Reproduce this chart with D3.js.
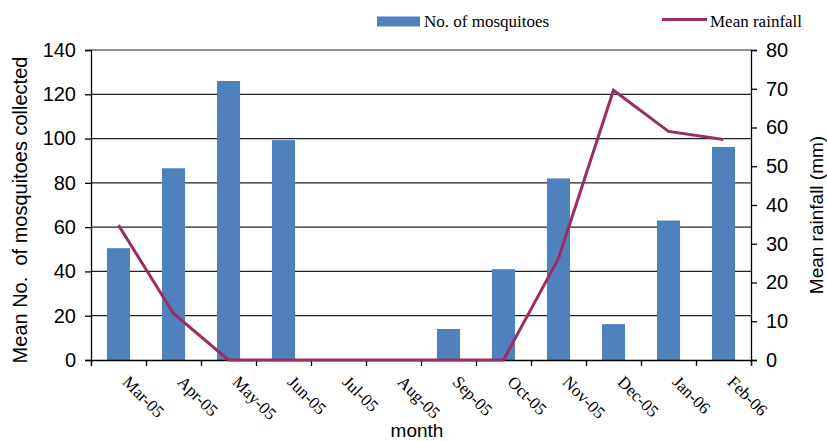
<!DOCTYPE html>
<html>
<head>
<meta charset="utf-8">
<script src="https://cdn.jsdelivr.net/npm/d3@7"></script>
<style>
  body { margin: 0; background: #fff; }
  svg { display: block; }
</style>
</head>
<body>
<svg id="chart"></svg>
<script>
var months = ['Mar-05', 'Apr-05', 'May-05', 'Jun-05', 'Jul-05', 'Aug-05',
	'Sep-05', 'Oct-05', 'Nov-05', 'Dec-05', 'Jan-06', 'Feb-06'];
var mosquitoes = [50.5, 86.6, 126, 99.3, 0, 0, 14, 41, 82, 16.2, 63, 96.2];
var rainfall = [34.8, 12, 0, 0, 0, 0, 0, 0, 26.2, 69.6, 59, 56.9];
var leftTicks = [0, 20, 40, 60, 80, 100, 120, 140];
var rightTicks = [0, 10, 20, 30, 40, 50, 60, 70, 80];

var width = 827, height = 441;
var margin = {top: 50, right: 76, bottom: 81, left: 91};
var plotW = width - margin.left - margin.right;
var plotH = height - margin.top - margin.bottom;

var barColor = '#4f81bd';
var lineColor = '#9b2d62';
var sans = 'Liberation Sans, Arial, sans-serif';
var serif = 'Liberation Serif, Times New Roman, serif';

var svg = d3.select('#chart')
	.attr('width', width)
	.attr('height', height);

var g = svg.append('g')
	.attr('transform', 'translate(' + margin.left + ',' + margin.top + ')');

var x = d3.scaleBand()
	.domain(months)
	.range([0, plotW])
	.padding(0);

// tick positions sit on the category boundaries
var xEdge = d3.scaleLinear()
	.domain([0, months.length])
	.range([0, plotW]);

var yLeft = d3.scaleLinear().domain([0, 140]).range([plotH, 0]);
var yRight = d3.scaleLinear().domain([0, 80]).range([plotH, 0]);

// gridlines
g.selectAll('line.grid')
	.data(leftTicks.slice(1))
	.enter()
	.append('line')
	.attr('class', 'grid')
	.attr('x1', 0)
	.attr('x2', plotW)
	.attr('y1', function(d) { return yLeft(d); })
	.attr('y2', function(d) { return yLeft(d); })
	.style('stroke', '#222')
	.style('stroke-width', 1.2);

// bars
var barW = x.bandwidth() * 0.42;
g.selectAll('rect.bar')
	.data(mosquitoes)
	.enter()
	.append('rect')
	.attr('class', 'bar')
	.attr('x', function(d, i) { return x(months[i]) + x.bandwidth() / 2 - barW / 2; })
	.attr('y', function(d) { return yLeft(d); })
	.attr('width', barW)
	.attr('height', function(d) { return plotH - yLeft(d); })
	.style('fill', barColor);

// axes
var axisLeft = g.append('g')
	.call(d3.axisLeft(yLeft).tickValues(leftTicks).tickSize(6).tickPadding(9));
var axisRight = g.append('g')
	.attr('transform', 'translate(' + plotW + ',0)')
	.call(d3.axisRight(yRight).tickValues(rightTicks).tickSize(6).tickPadding(9));
var axisBottom = g.append('g')
	.attr('transform', 'translate(0,' + plotH + ')')
	.call(d3.axisBottom(xEdge).ticks(months.length).tickSize(6).tickFormat(''));

[axisLeft, axisRight, axisBottom].forEach(function(a) {
	a.select('.domain').style('stroke', '#000').style('stroke-width', 1.3);
	a.selectAll('.tick line').style('stroke', '#000').style('stroke-width', 1.3);
	a.selectAll('.tick text')
		.style('font-family', sans)
		.style('font-size', '20px')
		.style('fill', '#000');
});

// rotated month labels
g.selectAll('text.month')
	.data(months)
	.enter()
	.append('text')
	.attr('class', 'month')
	.attr('transform', function(d) {
		return 'translate(' + (x(d) + x.bandwidth() / 2 + 3) + ',' + (plotH + 23) + ') rotate(45)';
	})
	.style('font-family', serif)
	.style('font-size', '17px')
	.text(function(d) { return d; });

// rainfall line
var line = d3.line()
	.x(function(d, i) { return x(months[i]) + x.bandwidth() / 2; })
	.y(function(d) { return yRight(d); });

g.append('path')
	.datum(rainfall)
	.attr('d', line)
	.style('fill', 'none')
	.style('stroke', lineColor)
	.style('stroke-width', 3)
	.style('stroke-linejoin', 'miter');

// axis titles
svg.append('text')
	.attr('transform', 'translate(27,210) rotate(-90)')
	.attr('text-anchor', 'middle')
	.style('font-family', sans)
	.style('font-size', '20px')
	.style('white-space', 'pre')
	.text('Mean No.  of mosquitoes collected');

svg.append('text')
	.attr('transform', 'translate(823,215) rotate(-90)')
	.attr('text-anchor', 'middle')
	.style('font-family', sans)
	.style('font-size', '19px')
	.text('Mean rainfall (mm)');

svg.append('text')
	.attr('x', 417)
	.attr('y', 437)
	.attr('text-anchor', 'middle')
	.style('font-family', sans)
	.style('font-size', '19px')
	.text('month');

// legend
var legend = svg.append('g');
legend.append('rect')
	.attr('x', 377)
	.attr('y', 16.5)
	.attr('width', 43)
	.attr('height', 10)
	.style('fill', barColor);
legend.append('text')
	.attr('x', 424)
	.attr('y', 27)
	.style('font-family', serif)
	.style('font-size', '17px')
	.text('No. of mosquitoes');
legend.append('line')
	.attr('x1', 662)
	.attr('x2', 707)
	.attr('y1', 19.5)
	.attr('y2', 19.5)
	.style('stroke', lineColor)
	.style('stroke-width', 3);
legend.append('text')
	.attr('x', 710)
	.attr('y', 27)
	.style('font-family', serif)
	.style('font-size', '17px')
	.text('Mean rainfall');
</script>
</body>
</html>
